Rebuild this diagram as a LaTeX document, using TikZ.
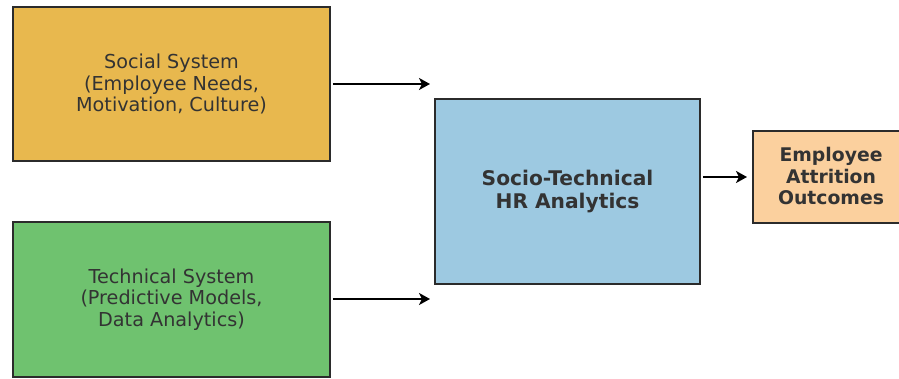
\documentclass[tikz,border=0pt]{standalone}
\usepackage{fontspec}
\setmainfont{DejaVu Sans}
\usetikzlibrary{arrows.meta}
\definecolor{socialfill}{HTML}{E8B84E}
\definecolor{techfill}{HTML}{6FC26F}
\definecolor{corefill}{HTML}{9DC9E1}
\definecolor{outfill}{HTML}{FBD09E}
\definecolor{boxedge}{HTML}{2B2B2B}
\definecolor{labeltext}{HTML}{333333}
\tikzset{
  sysbox/.style={draw=boxedge, line width=1.5pt, align=center, text=labeltext,
    inner sep=0pt, font=\fontsize{19.2}{21.5}\selectfont},
  keybox/.style={sysbox, font=\bfseries\fontsize{20.2}{23.5}\selectfont},
  flow/.style={-{Stealth[length=11pt,width=12pt,inset=3pt]}, line width=2.4pt, black}
}
\begin{document}
\begin{tikzpicture}[x=1pt,y=-1pt]
  \useasboundingbox (0,0) rectangle (899,379);
  \clip (0,0) rectangle (899,379);
  \node[sysbox, fill=socialfill, minimum width=317pt, minimum height=154pt]
    (social) at (171.5,84) {Social System\\(Employee Needs,\\Motivation, Culture)};
  \node[sysbox, fill=techfill, minimum width=317pt, minimum height=155pt]
    (tech) at (171.5,299.5) {Technical System\\(Predictive Models,\\Data Analytics)};
  \node[keybox, fill=corefill, minimum width=265pt, minimum height=185pt]
    (core) at (567.5,191.5) {Socio-Technical\\HR Analytics};
  \node[keybox, fill=outfill, minimum width=160pt, minimum height=92pt, anchor=west]
    (out) at (752,177) {};
  \node[font=\bfseries\fontsize{18.8}{21.8}\selectfont, text=labeltext, align=center]
    (outtext) at (831,176) {Employee\\Attrition\\Outcomes};
  \coordinate (socialend) at (430,84);
  \coordinate (techend) at (430,299);
  \draw[flow] (social.east |- socialend) ++(2,0) -- (socialend);
  \draw[flow] (tech.east |- techend) ++(2,0) -- (techend);
  \draw[flow] ([xshift=2pt]core.east |- out.west) -- ([xshift=-5pt]out.west);
\end{tikzpicture}
\end{document}
